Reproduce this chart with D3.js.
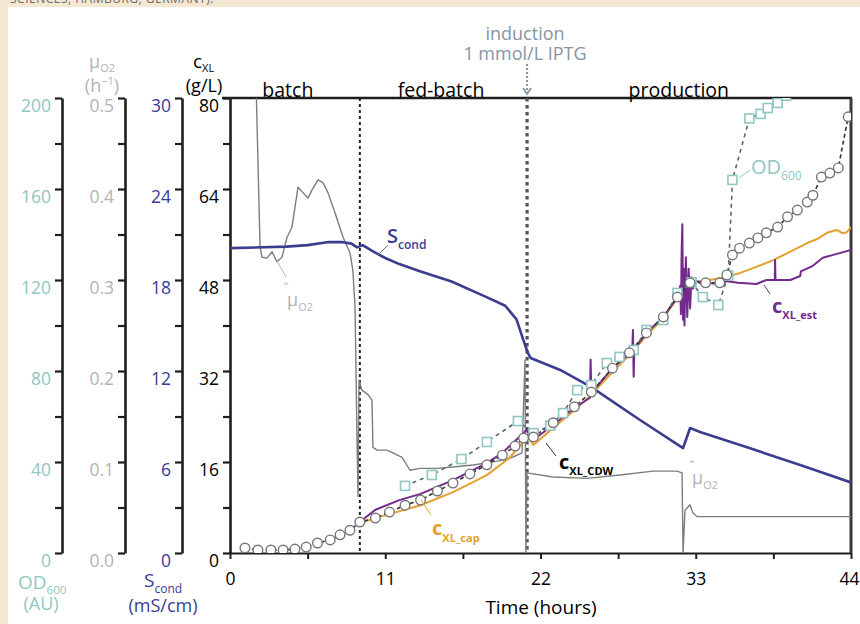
<!DOCTYPE html>
<html><head><meta charset="utf-8">
<script src="https://cdn.jsdelivr.net/npm/d3@7"></script>
<style>
html,body{margin:0;padding:0;background:#f4e8d3;}
svg{display:block;}
text{font-family:"Open Sans",sans-serif;}
</style></head>
<body>
<svg id="c" width="860" height="624"></svg>
<script>
// ---------- DATA ----------
const xTickValues = [0, 11, 22, 33, 44];
const odTicks = [0, 40, 80, 120, 160, 200];
const muTicks = [0, 0.1, 0.2, 0.3, 0.4, 0.5];
const scTicks = [0, 6, 12, 18, 24, 30];
const cxlTicks = [0, 16, 32, 48, 64, 80];
const phaseNames = ["batch", "fed-batch", "production"];
const phaseCenters = [4.1, 14.95, 31.8];
const phaseBreaks = [9.2, 21.05];

// S_cond (mS/cm)
const scT = [0, 4.0, 5.5, 7.0, 7.9, 8.6, 9.0, 9.4, 10.1, 11.0, 12.0, 13.4, 15.7, 18.1, 19.5, 20.3, 20.8, 21.1, 21.3, 23.4, 25.6, 29.05, 32.1, 32.3, 32.6, 33.3, 36.8, 40.4, 44.0];
const scV = [20.1, 20.2, 20.3, 20.5, 20.5, 20.4, 20.15, 20.3, 19.9, 19.45, 19.05, 18.6, 17.9, 16.9, 16.3, 15.4, 14.0, 13.2, 12.86, 12.07, 10.94, 8.77, 6.92, 7.45, 8.24, 7.98, 6.92, 5.80, 4.65];

// mu_O2 estimate (1/h)
const muT = [1.84, 2.13, 2.27, 2.62, 2.98, 3.33, 3.68, 4.04, 4.39, 4.82, 5.17, 5.53, 5.81, 6.24, 6.59, 6.94, 7.44, 8.01, 8.50, 8.71, 8.86, 8.93, 9.00, 9.07, 9.14, 9.35, 9.78, 10.06, 10.13, 10.42, 11.12, 11.55, 12.19, 12.61, 12.75, 13.46, 14.67, 15.8, 17.22, 18.21, 19.34, 20.05, 20.69, 20.9, 20.97, 21.04, 22.88, 25.29, 27.63, 29.97, 31.67, 32.03, 32.1, 32.24, 32.59, 32.8, 33.09, 36.84, 44.0];
const muV = [0.52, 0.336, 0.325, 0.324, 0.331, 0.320, 0.325, 0.347, 0.358, 0.402, 0.396, 0.390, 0.399, 0.410, 0.407, 0.396, 0.374, 0.347, 0.330, 0.310, 0.270, 0.198, 0.124, 0.062, 0.190, 0.179, 0.174, 0.168, 0.116, 0.113, 0.113, 0.110, 0.105, 0.0945, 0.091, 0.093, 0.093, 0.0945, 0.0967, 0.099, 0.102, 0.1055, 0.110, 0.212, 0.0, 0.088, 0.0835, 0.082, 0.0857, 0.090, 0.090, 0.088, 0.0, 0.047, 0.053, 0.044, 0.040, 0.040, 0.040];

// c_XL from cell dry weight (g/L)
const cdwT = [1.06, 1.98, 2.9, 3.76, 4.6, 5.4, 6.2, 7.1, 7.8, 8.5, 9.2, 10.3, 11.3, 12.4, 13.5, 14.7, 15.8, 17.0, 18.2, 19.3, 20.2, 20.8, 21.5, 22.9, 24.4, 25.6, 27.1, 28.3, 29.5, 30.7, 31.7, 32.6, 33.7, 34.7, 35.2, 35.6, 36.1, 36.8, 37.4, 38.0, 38.8, 39.5, 40.2, 40.9, 41.3, 41.9, 42.5, 43.1, 43.8];
const cdwV = [0.88, 0.53, 0.53, 0.53, 0.7, 1.05, 1.76, 2.3, 3.2, 4.0, 5.45, 6.15, 7.2, 8.4, 9.3, 10.9, 12.3, 13.9, 15.5, 17.2, 18.8, 20.2, 20.4, 22.9, 25.7, 28.3, 32.5, 35.2, 38.7, 41.5, 45.0, 47.5, 47.5, 47.5, 48.9, 52.4, 53.6, 54.5, 55.4, 56.3, 57.3, 59.1, 60.3, 61.7, 62.9, 66.1, 66.8, 67.7, 76.7];

// OD600 (AU)
const odT = [12.4, 14.3, 16.4, 18.2, 20.4, 21.5, 22.7, 23.6, 24.6, 25.6, 26.7, 27.6, 28.6, 29.5, 30.7, 31.7, 32.7, 33.5, 34.6, 35.3, 35.6, 36.8, 37.6, 38.1, 38.8, 39.4];
const odV = [29.5, 34.3, 41.3, 48.8, 58.0, 52.7, 56, 61.5, 71.6, 73.8, 83.5, 86.2, 89.2, 98, 102.4, 114.3, 119, 112.5, 109, 122, 164, 191, 193, 195.6, 197.8, 201];

// c_XL from capacitance (g/L)
const capT = [9.4, 11.1, 13.5, 15.8, 18.2, 19.8, 20.7, 21.0, 21.5, 22.9, 24.4, 25.6, 27.1, 28.3, 29.5, 30.7, 31.7, 32.6, 34.0, 34.9, 36.1, 37.3, 38.5, 39.7, 40.9, 41.6, 42.3, 43.0, 43.4, 43.7, 44.0];
const capV = [5.45, 6.7, 8.4, 10.7, 13.7, 16.7, 19.3, 20.7, 19.0, 22.0, 25.1, 27.8, 31.8, 34.8, 38.2, 41.3, 44.8, 47.5, 48.0, 48.4, 49.2, 50.3, 51.5, 53.0, 54.5, 55.2, 56.3, 56.8, 56.2, 56.4, 57.3];

// c_XL estimated (g/L)
const estT = [9.2, 10.3, 12.0, 13.5, 15.8, 18.2, 19.3, 20.8, 21.0, 21.5, 22.9, 24.4, 25.5, 25.55, 25.6, 27.1, 28.5, 28.55, 28.6, 28.65, 28.7, 29.5, 30.7, 31.7, 31.9, 31.95, 32.0, 32.05, 32.1, 32.15, 32.2, 32.3, 32.4, 32.5, 32.6, 32.7, 32.8, 33.0, 33.7, 34.7, 35.2, 36.0, 37.3, 38.0, 38.6, 38.62, 38.65, 39.7, 40.4, 40.45, 41.3, 42.0, 43.0, 44.0];
const estV = [5.45, 7.6, 9.3, 10.4, 12.8, 15.8, 17.6, 21.1, 21.6, 19.9, 22.5, 25.5, 27.3, 34.0, 28.1, 32.5, 35.5, 39.2, 31.0, 36.0, 36.0, 38.7, 41.5, 45.0, 47.0, 42.0, 53.0, 57.8, 41.0, 50.0, 40.0, 52.0, 41.5, 50.0, 43.0, 48.5, 46.5, 47.8, 47.5, 47.3, 47.8, 47.5, 47.3, 48.0, 48.0, 51.5, 48.0, 48.0, 48.7, 49.5, 50.5, 51.9, 52.6, 53.3];

// ---------- LAYOUT ----------
const svg = d3.select("#c");
const L = 230, R = 851, T = 98, B = 553;

svg.append("rect").attr("x", 8).attr("y", 7).attr("width", 852).attr("height", 617).attr("fill", "#ffffff");
svg.append("text").attr("x", 10).attr("y", 3).attr("font-size", 12).attr("fill", "#6a6a6a")
  .attr("letter-spacing", 0.5).text("SCIENCES, HAMBURG, GERMANY).");

const x = d3.scaleLinear().domain([0, 44]).range([L, R]);
const yC = d3.scaleLinear().domain([0, 80]).range([B, T]);
const yOD = d3.scaleLinear().domain([0, 200]).range([B, T]);
const yMu = d3.scaleLinear().domain([0, 0.5]).range([B, T]);
const ySc = d3.scaleLinear().domain([0, 30]).range([B, T]);

const C = {teal: "#8fc7c2", gray: "#b3b3b3", blue: "#383c96", orange: "#e4a02f", purple: "#722a8c", ind: "#8595a5"};

// ---------- LEFT AXES ----------
function sideAxis(scale, xpos, majors, color, fmt) {
  const lo = majors[0];
  const step = (majors[1] - majors[0]) / 2;
  const all = d3.range(0, 11).map(i => lo + i * step);
  const g = svg.append("g").attr("transform", `translate(${xpos},0)`)
    .call(d3.axisLeft(scale).tickValues(all).tickSize(7).tickSizeOuter(0).tickPadding(4)
      .tickFormat((d, i) => i % 2 === 0 ? fmt(d) : ""));
  g.select(".domain").attr("stroke", "#1e1e1e").attr("stroke-width", 2.6);
  g.selectAll(".tick line").attr("stroke", "#1e1e1e").attr("stroke-width", 2.2);
  g.selectAll(".tick text").attr("fill", color).attr("font-size", 17.5).attr("dy", "0.78em");
  return g;
}
sideAxis(yOD, 62, odTicks, C.teal, d3.format("d"));
sideAxis(yMu, 125, muTicks, C.gray, d3.format(".1f"));
sideAxis(ySc, 182, scTicks, C.blue, d3.format("d"));
sideAxis(yC, L, cxlTicks, "#000", d3.format("d"));

// bottom axis
const xAll = d3.range(0, 9).map(i => i * 5.5);
const gx = svg.append("g").attr("transform", `translate(0,${B})`)
  .call(d3.axisBottom(x).tickValues(xAll).tickSize(6).tickSizeOuter(0).tickPadding(14)
    .tickFormat(d => xTickValues.includes(d) ? d3.format("d")(d) : ""));
gx.select(".domain").attr("stroke", "#1e1e1e").attr("stroke-width", 2.2);
gx.selectAll(".tick line").attr("stroke", "#1e1e1e").attr("stroke-width", 2);
gx.selectAll(".tick text").attr("fill", "#000").attr("font-size", 17.5);
gx.selectAll(".tick text").filter(d => d === 44).attr("dx", -2);

// frame
svg.append("line").attr("x1", L - 8).attr("x2", R + 1).attr("y1", T).attr("y2", T).attr("stroke", "#1e1e1e").attr("stroke-width", 2.6);
svg.append("line").attr("x1", R).attr("x2", R).attr("y1", T).attr("y2", B).attr("stroke", "#3a3a3a").attr("stroke-width", 3);

// ---------- PHASES ----------
svg.append("line").attr("x1", x(phaseBreaks[0])).attr("x2", x(phaseBreaks[0])).attr("y1", T).attr("y2", B)
  .attr("stroke", "#222").attr("stroke-width", 2).attr("stroke-dasharray", "3,3");
svg.append("line").attr("x1", x(phaseBreaks[1])).attr("x2", x(phaseBreaks[1])).attr("y1", T).attr("y2", B)
  .attr("stroke", "#555").attr("stroke-width", 3.2).attr("stroke-dasharray", "3.5,3.5");
phaseNames.forEach((n, i) => {
  svg.append("text").attr("x", x(phaseCenters[i])).attr("y", 97).attr("text-anchor", "middle")
    .attr("font-size", 19.5).attr("fill", "#000").text(n);
});

// induction annotation
svg.append("text").attr("x", 525).attr("y", 40).attr("text-anchor", "middle").attr("font-size", 18).attr("fill", C.ind).text("induction");
svg.append("text").attr("x", 525).attr("y", 60).attr("text-anchor", "middle").attr("font-size", 18).attr("fill", C.ind).text("1 mmol/L IPTG");
svg.append("line").attr("x1", x(phaseBreaks[1])).attr("x2", x(phaseBreaks[1])).attr("y1", 64).attr("y2", 94)
  .attr("stroke", C.ind).attr("stroke-width", 2).attr("stroke-dasharray", "2,2");
svg.append("path").attr("d", `M${x(phaseBreaks[1]) - 4},88 L${x(phaseBreaks[1])},94 L${x(phaseBreaks[1]) + 4},88`)
  .attr("fill", "none").attr("stroke", C.ind).attr("stroke-width", 1.8);

// ---------- DATA ----------
svg.append("clipPath").attr("id", "clip").append("rect").attr("x", L).attr("y", T).attr("width", R - L).attr("height", B - T);
const plot = svg.append("g").attr("clip-path", "url(#clip)");
const zip = (a, b) => a.map((t, i) => [t, b[i]]);

function path(data, ys, stroke, w, dash) {
  plot.append("path").datum(data)
    .attr("d", d3.line().x(d => x(d[0])).y(d => ys(d[1])))
    .attr("fill", "none").attr("stroke", stroke).attr("stroke-width", w)
    .attr("stroke-linejoin", "round").attr("stroke-dasharray", dash || null);
}
path(zip(muT, muV), yMu, "#7d7d7d", 1.4);
path(zip(scT, scV), ySc, "#3b3d8e", 2.6);
path(zip(capT, capV), yC, C.orange, 2);
path(zip(estT, estV), yC, C.purple, 2);
path(zip(cdwT, cdwV), yC, "#333", 1.6, "4,3");
path(zip(odT, odV), yOD, "#4f6a72", 1.6, "4,4");

plot.selectAll("rect.od").data(zip(odT, odV)).join("rect").attr("class", "od")
  .attr("x", d => x(d[0]) - 4.5).attr("y", d => yOD(d[1]) - 4.5).attr("width", 9).attr("height", 9)
  .attr("fill", "#fff").attr("stroke", C.teal).attr("stroke-width", 1.6);
plot.selectAll("circle.cdw").data(zip(cdwT, cdwV)).join("circle").attr("class", "cdw")
  .attr("cx", d => x(d[0])).attr("cy", d => yC(d[1])).attr("r", 4.8)
  .attr("fill", "#fff").attr("stroke", "#777").attr("stroke-width", 1.4);

// ---------- LABELS ----------
function rich(xp, yp, parts, color, anchor) {
  const t = svg.append("text").attr("x", xp).attr("y", yp).attr("fill", color).attr("text-anchor", anchor || "start");
  parts.forEach(p => {
    t.append("tspan").attr("font-size", p.s).attr("dy", p.dy || 0).attr("font-weight", p.w || 400).text(p.t);
  });
  return t;
}
function leader(x1, y1, x2, y2, color) {
  svg.append("line").attr("x1", x1).attr("y1", y1).attr("x2", x2).attr("y2", y2).attr("stroke", color).attr("stroke-width", 1);
}

// header labels for left axes
rich(89, 68, [{t: "μ", s: 18}, {t: "O2", s: 11, dy: 4}], C.gray);
rich(102, 92, [{t: "(h", s: 18}, {t: "−1", s: 11, dy: -7}, {t: ")", s: 18, dy: 7}], C.gray, "middle");
rich(193, 68, [{t: "c", s: 19}, {t: "XL", s: 11, dy: 4}], "#000");
rich(204, 92, [{t: "(g/L)", s: 18}], "#000", "middle");

// bottom labels for left axes
rich(18, 589, [{t: "OD", s: 19}, {t: "600", s: 11.5, dy: 5}], C.teal);
rich(41, 610, [{t: "(AU)", s: 18}], C.teal, "middle");
rich(144, 587, [{t: "S", s: 19}, {t: "cond", s: 12, dy: 6}], C.blue);
rich(163, 612, [{t: "(mS/cm)", s: 18}], C.blue, "middle");

// time label
svg.append("text").attr("x", 541).attr("y", 614).attr("text-anchor", "middle").attr("font-size", 19).attr("fill", "#000").text("Time (hours)");

// in-plot labels
rich(387, 243, [{t: "S", s: 20, w: 600}, {t: "cond", s: 12, w: 600, dy: 6}], C.blue);
leader(378, 255, 388, 245, "#6d6fa8");

svg.append("text").attr("x", 286).attr("y", 294).attr("font-size", 14).attr("fill", C.gray).attr("text-anchor", "middle").text("ˆ");
rich(287, 306, [{t: "μ", s: 18}, {t: "O2", s: 11, dy: 5}], C.gray);
leader(278, 263, 286, 277, C.gray);

svg.append("text").attr("x", 692).attr("y", 472).attr("font-size", 14).attr("fill", C.gray).attr("text-anchor", "middle").text("ˆ");
rich(692, 484, [{t: "μ", s: 18}, {t: "O2", s: 11, dy: 5}], C.gray);

rich(559, 469, [{t: "c", s: 20, w: 700}, {t: "XL_CDW", s: 11, w: 700, dy: 6}], "#000");
leader(546, 443, 556, 456, "#333");

rich(432, 535, [{t: "c", s: 20, w: 700}, {t: "XL_cap", s: 11, w: 700, dy: 7}], C.orange);
leader(421, 500, 431, 515, C.orange);

rich(772, 313, [{t: "c", s: 20, w: 700}, {t: "XL_est", s: 11, w: 700, dy: 6}], C.purple);
leader(764, 285, 770, 294, C.purple);

rich(751, 174, [{t: "OD", s: 20}, {t: "600", s: 12, dy: 6}], C.teal);
leader(739, 178, 750, 170, C.teal);
</script>
</body></html>
